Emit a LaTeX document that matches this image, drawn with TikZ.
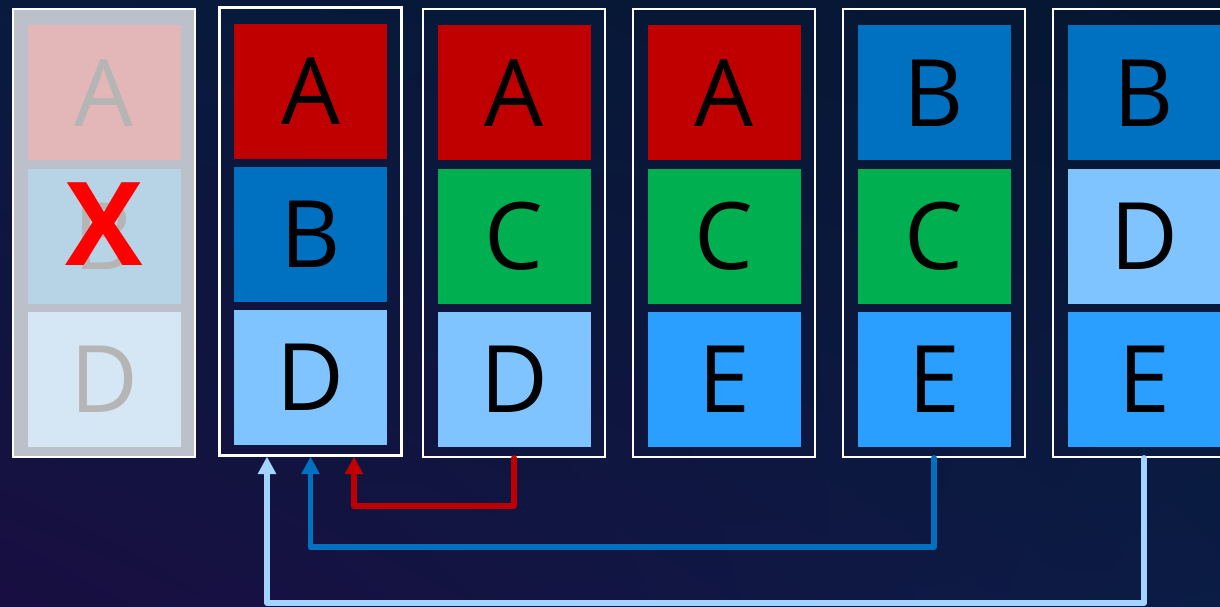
\documentclass[tikz,border=0pt]{standalone}
\usepackage{fontspec}
\setmainfont{Open Sans}
\usetikzlibrary{arrows.meta,positioning,shadings}
\definecolor{BgUL}{HTML}{081B3E}
\definecolor{BgUR}{HTML}{051630}
\definecolor{BgLL}{HTML}{190E41}
\definecolor{BgLR}{HTML}{0B1C45}
\definecolor{RedA}{HTML}{C00000}
\definecolor{BlueB}{HTML}{0070C0}
\definecolor{GreenC}{HTML}{00B050}
\definecolor{SkyD}{HTML}{80C4FF}
\definecolor{AzureE}{HTML}{2A9FFF}
\definecolor{PaleLink}{HTML}{A3D3FF}
\definecolor{Ghost}{HTML}{BCC0CB}
\definecolor{GhostA}{HTML}{E3B7B8}
\definecolor{GhostB}{HTML}{B6D4E5}
\definecolor{GhostD}{HTML}{D5E6F4}
\definecolor{GhostText}{HTML}{B5B5B5}
\tikzset{
  slot/.style={draw=white,line width=1.2pt,minimum width=3.64cm,minimum height=8.96cm,inner sep=0pt},
  cell/.style={minimum width=3.06cm,minimum height=2.7cm,inner sep=0pt,font=\fontsize{53}{60}\selectfont,text=black},
  cellA/.style={cell,fill=RedA},
  cellB/.style={cell,fill=BlueB},
  cellC/.style={cell,fill=GreenC},
  cellD/.style={cell,fill=SkyD},
  cellE/.style={cell,fill=AzureE},
  ghost/.style={cell,text=GhostText},
  link/.style={-{Triangle[length=3.5mm,width=3.5mm]},line width=3.4pt,line join=round,line cap=round}
}
\begin{document}
\begin{tikzpicture}[node distance=0.15cm]
  \useasboundingbox (0,0) rectangle (24.4,-12.12);
  \clip (0,0) rectangle (24.4,-12.12);
  \shade[upper left=BgUL,upper right=BgUR,lower left=BgLL,lower right=BgLR] (0,0) rectangle (24.4,-12.12);
  % removed stack
  \node[slot,fill=Ghost] (s0) at (2.08,-4.66) {};
  \node[ghost,fill=GhostA,below=0.34cm of s0.north] (s0a) {A};
  \node[ghost,fill=GhostB,below=of s0a] (s0b) {B};
  \node[ghost,fill=GhostD,below=of s0b] (s0d) {D};
  \node[text=red,font=\fontsize{66}{70}\selectfont\bfseries,inner sep=0pt,yshift=0.24cm] (cross) at (s0b.center) {X};
  % stacks
  \node[slot] (s1) at (6.21,-4.63) {};
  \node[cellA,below=0.34cm of s1.north] (s1a) {A};
  \node[cellB,below=of s1a] (s1b) {B};
  \node[cellD,below=of s1b] (s1d) {D};
  \node[slot] (s2) at (10.28,-4.66) {};
  \node[cellA,below=0.34cm of s2.north] (s2a) {A};
  \node[cellC,below=of s2a] (s2c) {C};
  \node[cellD,below=of s2c] (s2d) {D};
  \node[slot] (s3) at (14.48,-4.66) {};
  \node[cellA,below=0.34cm of s3.north] (s3a) {A};
  \node[cellC,below=of s3a] (s3c) {C};
  \node[cellE,below=of s3c] (s3e) {E};
  \node[slot] (s4) at (18.68,-4.66) {};
  \node[cellB,below=0.34cm of s4.north] (s4b) {B};
  \node[cellC,below=of s4b] (s4c) {C};
  \node[cellE,below=of s4c] (s4e) {E};
  \node[slot] (s5) at (22.88,-4.66) {};
  \node[cellB,below=0.34cm of s5.north] (s5b) {B};
  \node[cellD,below=of s5b] (s5d) {D};
  \node[cellE,below=of s5d] (s5e) {E};
  % links back to the first stack
  \draw[link,RedA] (s2.south) -- ++(0,-0.96) -| ([xshift=0.87cm]s1.south);
  \draw[link,BlueB] (s4.south) -- ++(0,-1.78) -| (s1.south);
  \draw[link,PaleLink] (s5.south) -- ++(0,-2.9) -| ([xshift=-0.87cm]s1.south);
\end{tikzpicture}
\end{document}
